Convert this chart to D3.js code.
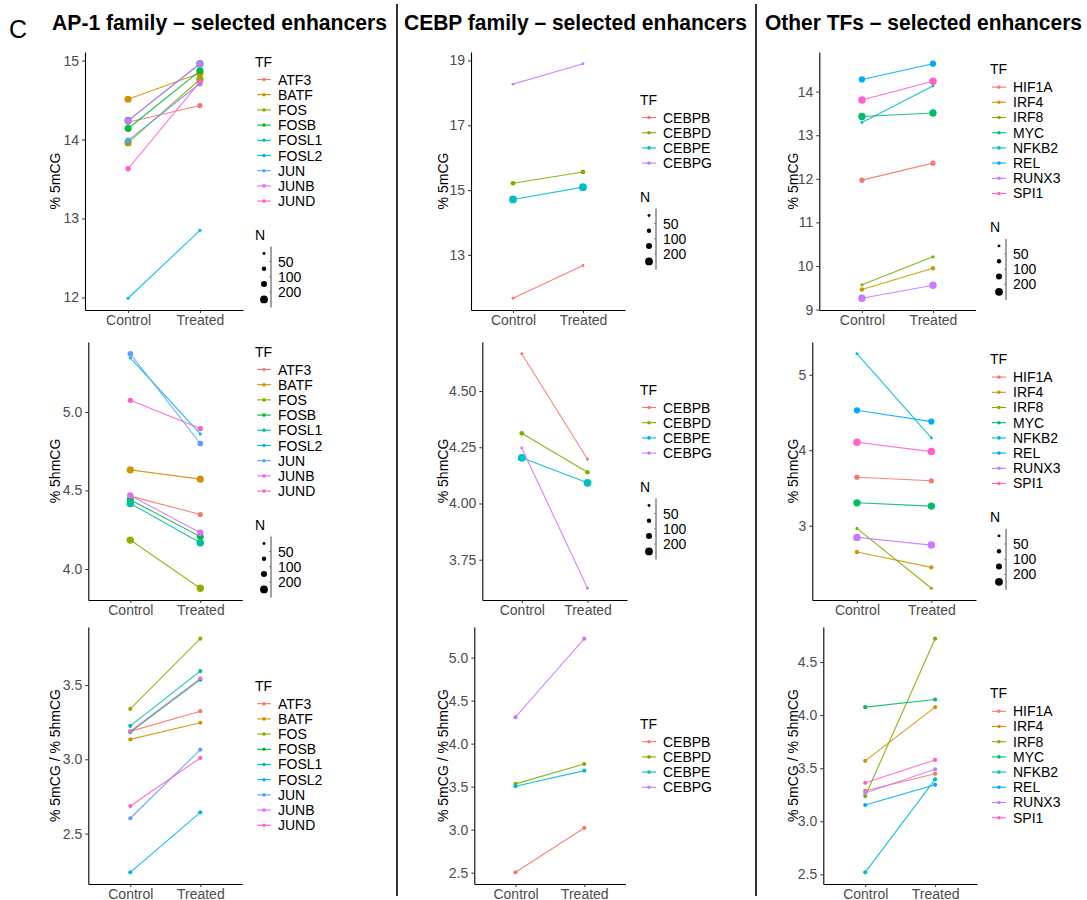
<!DOCTYPE html>
<html><head><meta charset="utf-8">
<script src="https://cdn.jsdelivr.net/npm/d3@7"></script>
<style>
body{margin:0;background:#fff}
svg{display:block}
text{font-family:"Liberation Sans",Arial,Helvetica,sans-serif}
</style>
</head><body>
<svg id="c" width="1087" height="900"></svg>
<script>
// ---------------- DATA ----------------
const conditions = ["Control", "Treated"];

// AP-1 family
const ap1TF = ["ATF3","BATF","FOS","FOSB","FOSL1","FOSL2","JUN","JUNB","JUND"];
const ap1Colors = ["#F8766D","#D39200","#93AA00","#00BA38","#00C19F","#00B9E3","#619CFF","#DB72FB","#FF61C3"];
const ap1N = [110,210,220,200,230,40,130,170,120];
const ap1_5mC_control = [14.22,14.51,13.96,14.14,14.24,11.99,13.99,14.24,13.63];
const ap1_5mC_treated = [14.43,14.84,14.76,14.87,14.96,12.85,14.71,14.96,14.73];
const ap1_5hmC_control = [4.464,4.631,4.184,4.441,4.417,5.345,5.371,4.468,5.074];
const ap1_5hmC_treated = [4.347,4.572,3.877,4.206,4.167,4.860,4.799,4.231,4.894];
const ap1_ratio_control = [3.188,3.134,3.339,3.184,3.225,2.239,2.603,3.19,2.685];
const ap1_ratio_treated = [3.324,3.246,3.812,3.536,3.594,2.643,3.065,3.545,3.009];

// CEBP family
const cebpTF = ["CEBPB","CEBPD","CEBPE","CEBPG"];
const cebpColors = ["#F8766D","#7CAE00","#00BFC4","#C77CFF"];
const cebpN = [35,90,250,35];
const cebp_5mC_control = [11.66,15.21,14.71,18.27];
const cebp_5mC_treated = [12.67,15.56,15.09,18.90];
const cebp_5hmC_control = [4.666,4.312,4.203,4.247];
const cebp_5hmC_treated = [4.197,4.139,4.092,3.623];
const cebp_ratio_control = [2.504,3.532,3.505,4.307];
const cebp_ratio_treated = [3.02,3.763,3.686,5.22];

// Other TFs
const othTF = ["HIF1A","IRF4","IRF8","MYC","NFKB2","REL","RUNX3","SPI1"];
const othColors = ["#F8766D","#CD9600","#7CAE00","#00BE67","#00BFC4","#00A9FF","#C77CFF","#FF61CC"];
const othN = [110,80,40,220,35,160,230,230];
const oth_5mC_control = [11.97,9.46,9.57,13.43,13.29,14.28,9.26,13.81];
const oth_5mC_treated = [12.36,9.95,10.21,13.51,14.13,14.64,9.56,14.24];
const oth_5hmC_control = [3.643,2.652,2.965,3.304,5.278,4.529,2.846,4.106];
const oth_5hmC_treated = [3.595,2.449,2.172,3.26,4.163,4.379,2.744,3.982];
const oth_ratio_control = [3.2875,3.569,3.2375,4.075,2.519,3.153,3.266,3.3625];
const oth_ratio_treated = [3.447,4.075,4.72,4.147,3.394,3.344,3.49,3.578];

// tick labels
const ap1_5mC_ticks = [12,13,14,15];
const ap1_5hmC_ticks = [4.0,4.5,5.0];
const ap1_ratio_ticks = [2.5,3.0,3.5];
const cebp_5mC_ticks = [13,15,17,19];
const cebp_5hmC_ticks = [3.75,4.00,4.25,4.50];
const cebp_ratio_ticks = [2.5,3.0,3.5,4.0,4.5,5.0];
const oth_5mC_ticks = [9,10,11,12,13,14];
const oth_5hmC_ticks = [3,4,5];
const oth_ratio_ticks = [2.5,3.0,3.5,4.0,4.5];

const sizeLegendLabels = ["50","100","200"];
const sizeLegendKeys = [35,80,150,250];

const titles = ["AP-1 family \u2013 selected enhancers","CEBP family \u2013 selected enhancers","Other TFs \u2013 selected enhancers"];
const yTitles = ["% 5mCG","% 5hmCG","% 5mCG / % 5hmCG"];

// ---------------- LAYOUT ----------------
const svg = d3.select("#c");
const rowsY = [[52,310],[342,600],[627,884]];
const colLayout = [
  {ytitleX:55, legendX:255, plotX:[[85,243],[88.3,242.3],[88.3,242.3]], title:[52,335]},
  {ytitleX:442.7, legendX:640, plotX:[[471,625],[482.3,627],[474.3,625.5]], title:[404,343]},
  {ytitleX:792.7, legendX:990, plotX:[[819.3,975.6],[812.3,976],[823.3,977]], title:[765,317]}
];
const rScale = d3.scaleSqrt().domain([0,250]).range([0,3.9]);
const ratioR = 2.1;
const FS = 14;

const f0 = d3.format("d"), f1 = d3.format(".1f"), f2 = d3.format(".2f");

const groups = [
  {tf:ap1TF, colors:ap1Colors, n:ap1N, panels:[
    {c:ap1_5mC_control, t:ap1_5mC_treated, ticks:ap1_5mC_ticks, fmt:f0, size:true},
    {c:ap1_5hmC_control, t:ap1_5hmC_treated, ticks:ap1_5hmC_ticks, fmt:f1, size:true},
    {c:ap1_ratio_control, t:ap1_ratio_treated, ticks:ap1_ratio_ticks, fmt:f1, size:false}]},
  {tf:cebpTF, colors:cebpColors, n:cebpN, panels:[
    {c:cebp_5mC_control, t:cebp_5mC_treated, ticks:cebp_5mC_ticks, fmt:f0, size:true},
    {c:cebp_5hmC_control, t:cebp_5hmC_treated, ticks:cebp_5hmC_ticks, fmt:f2, size:true},
    {c:cebp_ratio_control, t:cebp_ratio_treated, ticks:cebp_ratio_ticks, fmt:f1, size:false}]},
  {tf:othTF, colors:othColors, n:othN, panels:[
    {c:oth_5mC_control, t:oth_5mC_treated, ticks:oth_5mC_ticks, fmt:f0, size:true},
    {c:oth_5hmC_control, t:oth_5hmC_treated, ticks:oth_5hmC_ticks, fmt:f0, size:true},
    {c:oth_ratio_control, t:oth_ratio_treated, ticks:oth_ratio_ticks, fmt:f1, size:false}]}
];

// header
svg.append("text").attr("x",9).attr("y",38).attr("font-size",25).attr("fill","#000").text("C");
groups.forEach((gr,ci)=>{
  const L = colLayout[ci];
  svg.append("text").attr("x",L.title[0]).attr("y",30).attr("font-size",21.5).attr("font-weight","bold")
    .attr("textLength",L.title[1]).attr("lengthAdjust","spacingAndGlyphs").attr("fill","#000").text(titles[ci]);
});
// dividers
[397,756].forEach(x=>svg.append("line").attr("x1",x).attr("x2",x).attr("y1",4).attr("y2",896).attr("stroke","#000").attr("stroke-width",1.6));

function styleAxis(a){
  a.select(".domain").attr("stroke","#000").attr("stroke-width",1.1);
  a.selectAll(".tick line").attr("stroke","#333").attr("stroke-width",1);
  a.selectAll(".tick text").attr("fill","#4D4D4D").attr("font-size",FS).attr("font-family","'Liberation Sans',Arial,sans-serif");
}

groups.forEach((gr,ci)=>{
  const L = colLayout[ci];
  gr.panels.forEach((p,ri)=>{
    const [x0,x1] = L.plotX[ri];
    const [yt,yb] = rowsY[ri];
    const all = p.c.concat(p.t);
    const [mn,mx] = d3.extent(all); const pad=(mx-mn)*0.05;
    const y = d3.scaleLinear().domain([mn-pad,mx+pad]).range([yb,yt]);
    const x = d3.scalePoint().domain(conditions).range([x0,x1]).padding(0.6);
    const g = svg.append("g");
    const ya = g.append("g").attr("transform",`translate(${x0},0)`)
      .call(d3.axisLeft(y).tickValues(p.ticks).tickFormat(p.fmt).tickSize(3).tickSizeOuter(0).tickPadding(3));
    styleAxis(ya);
    const xa = g.append("g").attr("transform",`translate(0,${yb})`)
      .call(d3.axisBottom(x).tickSize(3).tickSizeOuter(0).tickPadding(2));
    styleAxis(xa);
    // y title
    g.append("text").attr("transform",`translate(${L.ytitleX},${(yt+yb)/2}) rotate(-90)`)
      .attr("text-anchor","middle").attr("dominant-baseline","central").attr("font-size",FS).attr("fill","#000").text(yTitles[ri]);
    // lines
    gr.tf.forEach((tf,i)=>{
      g.append("line").attr("x1",x("Control")).attr("x2",x("Treated"))
        .attr("y1",y(p.c[i])).attr("y2",y(p.t[i]))
        .attr("stroke",gr.colors[i]).attr("stroke-width",1.1).attr("stroke-opacity",0.9);
    });
    // points
    gr.tf.forEach((tf,i)=>{
      const r = p.size ? rScale(gr.n[i]) : ratioR;
      [["Control",p.c[i]],["Treated",p.t[i]]].forEach(([cond,v])=>{
        g.append("circle").attr("cx",x(cond)).attr("cy",y(v)).attr("r",r).attr("fill",gr.colors[i]);
      });
    });
    // legend
    const lx = L.legendX;
    const step = 15.2;
    const nItems = gr.tf.length;
    const lastItem = 18 + (nItems-1)*step;
    const nTitle = lastItem + 33.4;
    const H = p.size ? nTitle + 80 : lastItem + 14;
    const top = (yt+yb)/2 - H/2 + 7;
    const lg = g.append("g").attr("transform",`translate(${lx},${top})`);
    lg.append("text").attr("x",0).attr("y",0).attr("dominant-baseline","central").attr("font-size",FS).attr("fill","#000").text("TF");
    gr.tf.forEach((tf,i)=>{
      const yy = 18 + i*step;
      lg.append("line").attr("x1",2).attr("x2",16).attr("y1",yy).attr("y2",yy).attr("stroke",gr.colors[i]).attr("stroke-width",1.1);
      lg.append("circle").attr("cx",9).attr("cy",yy).attr("r",1.8).attr("fill",gr.colors[i]);
      lg.append("text").attr("x",23).attr("y",yy).attr("dominant-baseline","central").attr("font-size",FS).attr("fill","#000").text(tf);
    });
    if(p.size){
      lg.append("text").attr("x",0).attr("y",nTitle).attr("dominant-baseline","central").attr("font-size",FS).attr("fill","#000").text("N");
      lg.append("line").attr("x1",16).attr("x2",16).attr("y1",nTitle+12).attr("y2",nTitle+73).attr("stroke","#333").attr("stroke-width",0.9);
      sizeLegendKeys.forEach((k,j)=>{
        lg.append("circle").attr("cx",9).attr("cy",nTitle+19+j*15.3).attr("r",rScale(k)).attr("fill","#000");
      });
      sizeLegendLabels.forEach((lab,j)=>{
        const yy = nTitle+27+j*15.3;
        lg.append("line").attr("x1",14).attr("x2",16).attr("y1",yy).attr("y2",yy).attr("stroke","#777").attr("stroke-width",0.8);
        lg.append("text").attr("x",23).attr("y",yy).attr("dominant-baseline","central").attr("font-size",FS).attr("fill","#000").text(lab);
      });
    }
  });
});
</script>
</body></html>
